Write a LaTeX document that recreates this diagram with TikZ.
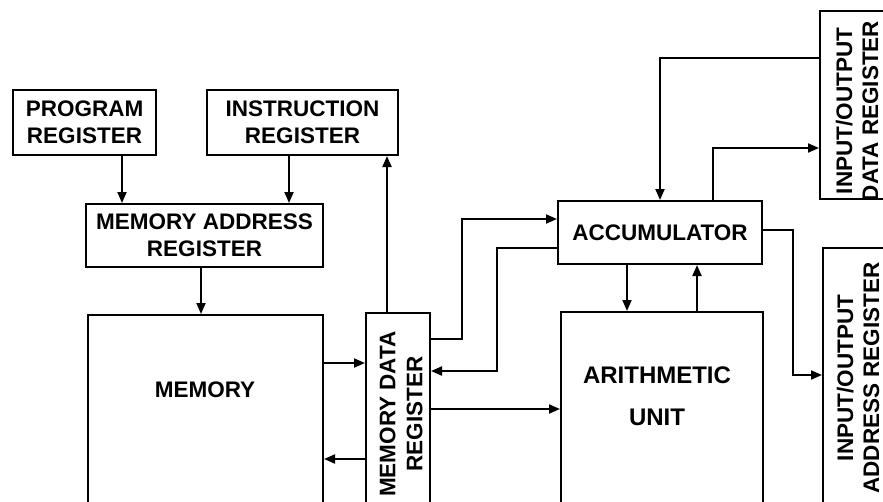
\documentclass[tikz,border=0pt]{standalone}
\usepackage{fontspec}
\setmainfont{Liberation Sans}
\usetikzlibrary{arrows.meta}
\tikzset{
  box/.style={draw, line width=2pt, inner sep=0pt},
  lbl/.style={font=\fontsize{22.5}{27}\selectfont\bfseries, align=center, inner sep=0pt},
  arr/.style={line width=2pt, -{Triangle[length=11pt,width=9pt]}},
}
\begin{document}
\begin{tikzpicture}[x=1pt,y=-1pt]
\useasboundingbox (0,0) rectangle (883,501);
\clip (0,0) rectangle (883,501);
% boxes
\node[box, lbl, minimum width=143pt, minimum height=65pt] (pr) at (84.5,122.5) {PROGRAM\\REGISTER};
\node[box, lbl, minimum width=191pt, minimum height=65pt] (ir) at (302.5,122.5) {INSTRUCTION\\REGISTER};
\node[box, lbl, minimum width=237pt, minimum height=63pt] (mar) at (204.5,235.5) {MEMORY ADDRESS\\REGISTER};
\node[box, minimum width=235pt, minimum height=215pt] (mem) at (205.5,422.5) {};
\node[lbl] (memt) at (205,390) {MEMORY};
\node[box, minimum width=64pt, minimum height=217pt] (mdr) at (398,421.5) {};
\node[lbl, rotate=90] (mdrt) at (401,414) {MEMORY DATA\\REGISTER};
\node[box, lbl, minimum width=204pt, minimum height=63pt] (acc) at (660,232.5) {ACCUMULATOR};
\node[box, minimum width=202pt, minimum height=218pt] (au) at (662,421) {};
\node[lbl, font=\fontsize{24}{27}\selectfont\bfseries] (aut) at (657,396) {ARITHMETIC\\[15pt]UNIT};
\node[box, minimum width=85pt, minimum height=188pt] (iodr) at (862.5,105) {};
\node[lbl, rotate=90, font=\fontsize{22.5}{26}\selectfont\bfseries] (iodrt) at (857,111) {INPUT/OUTPUT\\DATA REGISTER};
\node[box, minimum width=82pt, minimum height=282pt] (ioar) at (864,389) {};
\node[lbl, rotate=90, font=\fontsize{22.5}{26}\selectfont\bfseries] (ioart) at (858,378) {INPUT/OUTPUT\\ADDRESS REGISTER};
% connectors
\draw[arr] (pr.south -| 122,0) -- (mar.north -| 122,0);
\draw[arr] (ir.south -| 289,0) -- (mar.north -| 289,0);
\draw[arr] (mar.south -| 201,0) -- (mem.north -| 201,0);
\draw[arr] (mdr.north -| 387,0) -- (ir.south -| 387,0);
\draw[arr] (mem.east |- 0,363) -- (mdr.west |- 0,363);
\draw[arr] (mdr.west |- 0,459) -- (mem.east |- 0,459);
\draw[arr] (mdr.east |- 0,339) -- (462,339) |- (acc.west |- 0,219);
\draw[arr] (acc.west |- 0,248) -- (497,248) |- (mdr.east |- 0,371);
\draw[arr] (mdr.east |- 0,409) -- (au.west |- 0,409);
\draw[arr] (acc.south -| 627,0) -- (au.north -| 627,0);
\draw[arr] (au.north -| 697,0) -- (acc.south -| 697,0);
\draw[arr] (iodr.west |- 0,58) -| (acc.north -| 660,0);
\draw[arr] (acc.north -| 713,0) |- (iodr.west |- 0,148);
\draw[arr] (acc.east |- 0,230) -- (793,230) |- (ioar.west |- 0,375);
\end{tikzpicture}
\end{document}
